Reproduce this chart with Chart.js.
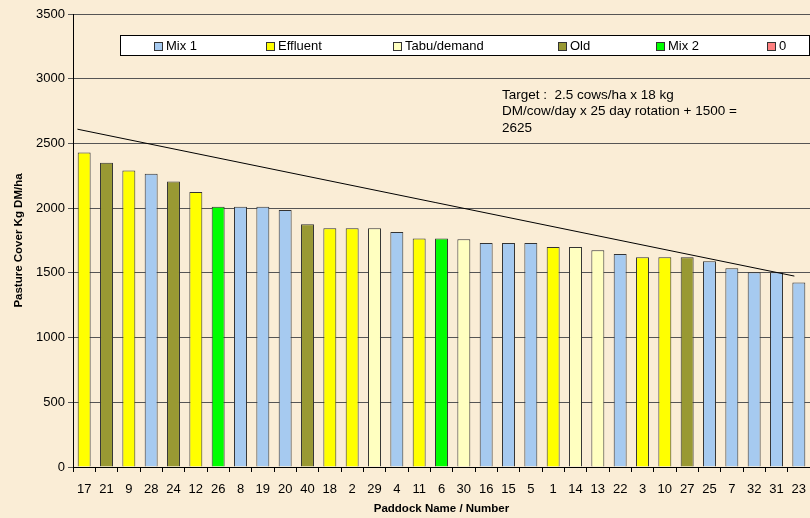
<!DOCTYPE html>
<html><head><meta charset="utf-8">
<script src="https://cdn.jsdelivr.net/npm/chart.js@4"></script>
<style>html,body{margin:0;padding:0;background:#FAEDD6;}#wrap{width:810px;height:518px;}</style>
</head><body><div id="wrap"><canvas id="c" width="810" height="518"></canvas></div>
<script>
const paddocks = ['17','21','9','28','24','12','26','8','19','20','40','18','2','29','4','11','6','30','16','15','5','1','14','13','22','3','10','27','25','7','32','31','23'];
const cover = [2430,2350,2290,2265,2205,2125,2010,2010,2010,1985,1875,1845,1845,1845,1815,1765,1765,1760,1730,1730,1730,1700,1700,1675,1645,1620,1620,1620,1590,1535,1505,1505,1425];
const groupOf = ['Effluent','Old','Effluent','Mix 1','Old','Effluent','Mix 2','Mix 1','Mix 1','Mix 1','Old','Effluent','Effluent','Tabu/demand','Mix 1','Effluent','Mix 2','Tabu/demand','Mix 1','Mix 1','Mix 1','Effluent','Tabu/demand','Tabu/demand','Mix 1','Effluent','Effluent','Old','Mix 1','Mix 1','Mix 1','Mix 1','Mix 1'];
const groups = ['Mix 1','Effluent','Tabu/demand','Old','Mix 2','0'];
const groupColors = ['#A6CAF0','#FFFF00','#FFFFC0','#999933','#00FF00','#FF8080'];
// target line end points (x in category-index units)
const targetX = [-0.3, 31.8];
const targetY = [2610, 1475];
const yTicks = [0,500,1000,1500,2000,2500,3000,3500];
const noteLines = ['Target :  2.5 cows/ha x 18 kg','DM/cow/day x 25 day rotation + 1500 =','2625'];

const FONT = 'Liberation Sans, Arial, sans-serif';
const barSets = groups.map((g,gi)=>({
  type:'bar', label:g, xAxisID:'x', yAxisID:'y', grouped:false,
  data: cover.map((v,i)=> groupOf[i]===g ? v : null),
  backgroundColor: groupColors[gi], borderColor:'#333', borderWidth:1,
  barPercentage:0.58, categoryPercentage:1, order:2
}));
const lineSet = {type:'line', label:'Target', xAxisID:'xl', yAxisID:'y', data: targetX.map((x,i)=>({x:x, y:targetY[i]})),
  borderColor:'#000', borderWidth:1, pointRadius:0, fill:false, order:1};

const bgPlugin = {id:'bg', beforeDraw(chart){const c=chart.ctx; c.save(); c.fillStyle='#FAEDD6'; c.fillRect(0,0,chart.width,chart.height); c.restore();}};
const overlayPlugin = {id:'overlay', afterDraw(chart){
  const c = chart.ctx; c.save();
  c.fillStyle='#FFFFFF'; c.fillRect(120.5,35.5,689,20); c.strokeStyle='#000'; c.lineWidth=1; c.strokeRect(120.5,35.5,689,20);
  const xs=[154,266,393,558,656,767];
  c.font='13px '+FONT; c.textBaseline='middle'; c.textAlign='left';
  groups.forEach((g,i)=>{ c.fillStyle=groupColors[i]; c.fillRect(xs[i]+0.5,42.5,8,8); c.strokeStyle='#333'; c.strokeRect(xs[i]+0.5,42.5,8,8);
    c.fillStyle='#000'; c.fillText(g, xs[i]+12, 46.5);});
  c.font='13.5px '+FONT; c.textBaseline='middle'; c.fillStyle='#000';
  noteLines.forEach((t,i)=> c.fillText(t, 502, 95+i*16.5));
  c.restore();
}};

new Chart(document.getElementById('c'), {
  data:{labels:paddocks, datasets:[...barSets, lineSet]},
  options:{
    responsive:false, animation:false, devicePixelRatio:1,
    layout:{padding:{left:0,right:0,top:14,bottom:0}},
    plugins:{legend:{display:false}, tooltip:{enabled:false}},
    scales:{
      x:{type:'category', offset:true,
        grid:{offset:true, drawOnChartArea:false, tickLength:5, color:'#000'},
        border:{color:'#000'},
        ticks:{font:{family:FONT,size:13}, color:'#000', maxRotation:0, autoSkip:false, padding:10},
        title:{display:true, text:'Paddock Name / Number', font:{family:FONT,size:11.5,weight:'bold'}, color:'#000', padding:{top:2,bottom:2}},
        afterFit(s){ s.height=51; s.paddingLeft=0; s.paddingRight=0; }
      },
      xl:{type:'linear', display:false, min:-0.5, max:paddocks.length-0.5},
      y:{min:0, max:3500,
        afterBuildTicks(s){ s.ticks = yTicks.map(v=>({value:v})); },
        grid:{color:'#555', tickLength:5, drawTicks:true},
        border:{color:'#000'},
        ticks:{font:{family:FONT,size:13}, color:'#000', padding:3, callback:(v)=>String(v)},
        title:{display:true, text:'Pasture Cover Kg DM/ha', font:{family:FONT,size:11.5,weight:'bold'}, color:'#000', padding:{top:12,bottom:4}},
        afterFit(s){ s.width=73; }
      }
    }
  },
  plugins:[bgPlugin, overlayPlugin]
});
</script></body></html>
